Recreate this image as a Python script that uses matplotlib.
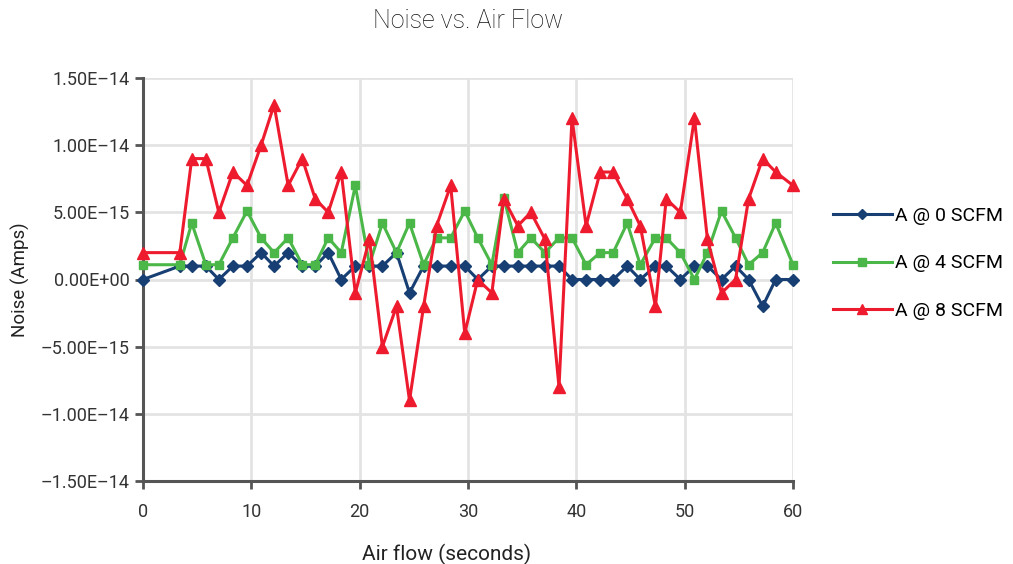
import matplotlib
import matplotlib.pyplot as plt
from matplotlib.ticker import FuncFormatter

matplotlib.use('Agg')

plt.rcParams['font.family'] = ['Roboto', 'DejaVu Sans']

# time stamps (seconds)
times = [0, 3.4, 4.5, 5.8, 7.0, 8.3, 9.6, 10.9, 12.1, 13.4, 14.7, 15.9, 17.1, 18.3,
         19.6, 20.9, 22.1, 23.4, 24.6, 25.9, 27.1, 28.4, 29.7, 30.9, 32.2, 33.3,
         34.6, 35.8, 37.1, 38.4, 39.6, 40.9, 42.2, 43.4, 44.7, 45.9, 47.3, 48.3,
         49.6, 50.9, 52.1, 53.4, 54.7, 55.9, 57.2, 58.4, 60.0]

# noise in units of 1E-15 A
scfm0 = [0, 1, 1, 1, 0, 1, 1, 2, 1, 2, 1, 1, 2, 0,
         1, 1, 1, 2, -1, 1, 1, 1, 1, 0, 1, 1,
         1, 1, 1, 1, 0, 0, 0, 0, 1, 0, 1, 1,
         0, 1, 1, 0, 1, 0, -2, 0, 0]
scfm4 = [1.1, 1.1, 4.2, 1.1, 1.1, 3.1, 5.1, 3.1, 2.0, 3.1, 1.1, 1.1, 3.1, 2.0,
         7.0, 1.1, 4.2, 2.0, 4.2, 1.1, 3.1, 3.1, 5.1, 3.1, 1.1, 6.1,
         2.0, 3.1, 2.0, 3.1, 3.1, 1.1, 2.0, 2.0, 4.2, 1.1, 3.1, 3.1,
         2.0, 0.0, 2.0, 5.1, 3.1, 1.1, 2.0, 4.2, 1.1]
scfm8 = [2, 2, 9, 9, 5, 8, 7, 10, 13, 7, 9, 6, 5, 8,
         -1, 3, -5, -2, -9, -2, 4, 7, -4, 0, -1, 6,
         4, 5, 3, -8, 12, 4, 8, 8, 6, 4, -2, 6,
         5, 12, 3, -1, 0, 6, 9, 8, 7]

series = [
    ('A @ 0 SCFM', scfm0, '#173f73', 'D', 6),
    ('A @ 4 SCFM', scfm4, '#4bb748', 's', 6),
    ('A @ 8 SCFM', scfm8, '#ee1b2e', '^', 8),
]

fig = plt.figure(figsize=(10.13, 5.64), dpi=100)
ax = fig.add_axes([143 / 1013, 1 - 481 / 564, 650 / 1013, 403 / 564])

for label, vals, color, marker, ms in series:
    ax.plot(times, [v * 1e-15 for v in vals], color=color, marker=marker,
            markersize=ms, linewidth=2.2, label=label, clip_on=False, zorder=3)

ax.set_xlim(0, 60)
ax.set_ylim(-1.5e-14, 1.5e-14)
ax.set_xticks(range(0, 61, 10))
ax.set_yticks([i * 5e-15 for i in range(-3, 4)])


def sci_fmt(v, pos):
    s = f"{v:.2E}"
    if abs(v) < 1e-20:
        s = "0.00E+00"
    return s.replace('-', '\u2013')


ax.yaxis.set_major_formatter(FuncFormatter(sci_fmt))
ax.grid(True, color='#e3e3e3', linewidth=2)
ax.set_axisbelow(True)
for side in ['top', 'right']:
    ax.spines[side].set_visible(False)
for side in ['left', 'bottom']:
    ax.spines[side].set_color('#555555')
    ax.spines[side].set_linewidth(2.2)
ax.tick_params(axis='both', colors='#555555', width=2, length=6,
               labelcolor='#333333', labelsize=13)
ax.tick_params(axis='x', pad=10)

ax.set_title('Noise vs. Air Flow', fontsize=18, color='#111111', pad=36,
             fontweight='light')
ax.set_xlabel('Air flow (seconds)', fontsize=15, color='#222222', labelpad=16)
ax.xaxis.label.set_x(0.467)
ax.set_ylabel('Noise (Amps)', fontsize=13.5, color='#222222', labelpad=8)

ax.legend(loc='center left', bbox_to_anchor=(1.035, 0.54), frameon=False,
          fontsize=14, labelspacing=1.5, handlelength=3.0, handletextpad=0.15,
          markerscale=0.9)

fig.savefig('out.png', dpi=100)
